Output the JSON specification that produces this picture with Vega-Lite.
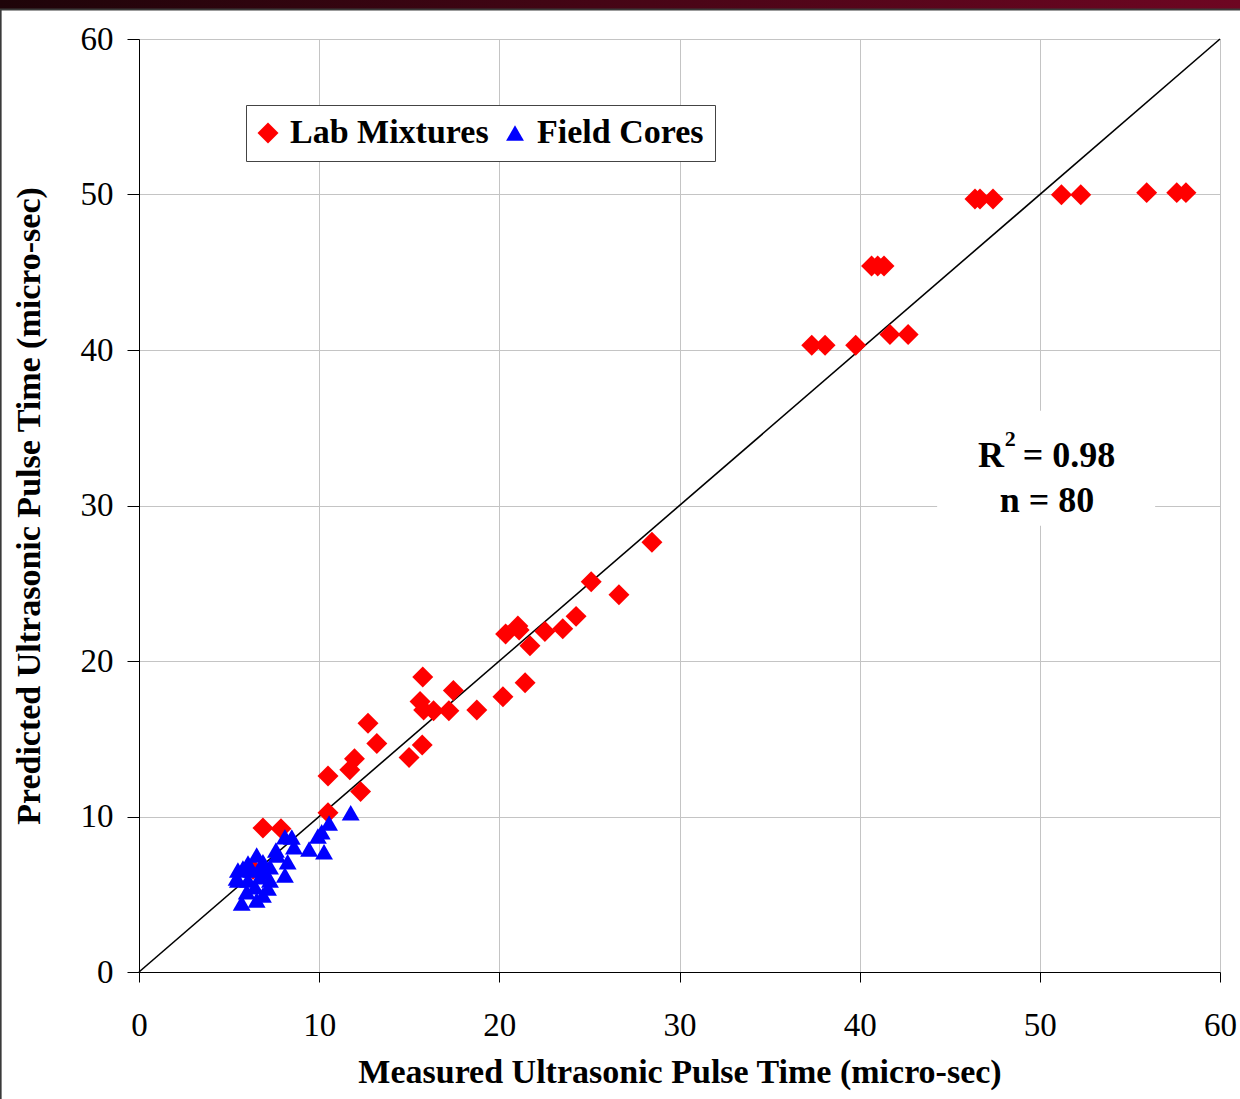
{
  "$schema": "https://vega.github.io/schema/vega-lite/v6.json",
  "width": 1081,
  "height": 933,
  "autosize": {"type": "none"},
  "padding": {"left": 139, "top": 39, "right": 20, "bottom": 127},
  "background": "white",
  "config": {
    "view": {"stroke": null},
    "font": "Liberation Serif",
    "axis": {
      "labelFont": "Liberation Serif",
      "labelFontSize": 33,
      "labelColor": "black",
      "labelFlush": false,
      "titleFont": "Liberation Serif",
      "titleFontSize": 34,
      "titleFontWeight": "bold",
      "titleColor": "black",
      "domainColor": "black",
      "domainWidth": 1,
      "tickColor": "black",
      "gridColor": "#c4c4c4",
      "gridWidth": 1
    }
  },
  "datasets": {
    "pts": [
      {"series": "Lab Mixtures", "measured": 6.88, "predicted": 9.26},
      {"series": "Lab Mixtures", "measured": 7.88, "predicted": 9.22},
      {"series": "Lab Mixtures", "measured": 10.49, "predicted": 10.24},
      {"series": "Lab Mixtures", "measured": 10.49, "predicted": 12.6},
      {"series": "Lab Mixtures", "measured": 12.3, "predicted": 11.6},
      {"series": "Lab Mixtures", "measured": 11.7, "predicted": 13.0},
      {"series": "Lab Mixtures", "measured": 11.96, "predicted": 13.72},
      {"series": "Lab Mixtures", "measured": 12.71, "predicted": 16.0},
      {"series": "Lab Mixtures", "measured": 13.2, "predicted": 14.7},
      {"series": "Lab Mixtures", "measured": 14.99, "predicted": 13.8},
      {"series": "Lab Mixtures", "measured": 15.72, "predicted": 14.6},
      {"series": "Lab Mixtures", "measured": 15.6, "predicted": 17.4},
      {"series": "Lab Mixtures", "measured": 15.75, "predicted": 18.97},
      {"series": "Lab Mixtures", "measured": 15.8, "predicted": 16.85},
      {"series": "Lab Mixtures", "measured": 16.35, "predicted": 16.8},
      {"series": "Lab Mixtures", "measured": 17.2, "predicted": 16.8},
      {"series": "Lab Mixtures", "measured": 17.45, "predicted": 18.1},
      {"series": "Lab Mixtures", "measured": 18.75, "predicted": 16.85},
      {"series": "Lab Mixtures", "measured": 20.2, "predicted": 17.7},
      {"series": "Lab Mixtures", "measured": 21.43, "predicted": 18.6},
      {"series": "Lab Mixtures", "measured": 20.35, "predicted": 21.74},
      {"series": "Lab Mixtures", "measured": 21.03, "predicted": 22.25},
      {"series": "Lab Mixtures", "measured": 21.1, "predicted": 21.99},
      {"series": "Lab Mixtures", "measured": 21.7, "predicted": 20.98},
      {"series": "Lab Mixtures", "measured": 22.53, "predicted": 21.9},
      {"series": "Lab Mixtures", "measured": 23.52, "predicted": 22.07},
      {"series": "Lab Mixtures", "measured": 24.26, "predicted": 22.87},
      {"series": "Lab Mixtures", "measured": 25.1, "predicted": 25.1},
      {"series": "Lab Mixtures", "measured": 26.64, "predicted": 24.26},
      {"series": "Lab Mixtures", "measured": 28.47, "predicted": 27.64},
      {"series": "Lab Mixtures", "measured": 37.34, "predicted": 40.3},
      {"series": "Lab Mixtures", "measured": 38.08, "predicted": 40.3},
      {"series": "Lab Mixtures", "measured": 39.78, "predicted": 40.3},
      {"series": "Lab Mixtures", "measured": 40.66, "predicted": 45.4},
      {"series": "Lab Mixtures", "measured": 41.0, "predicted": 45.4},
      {"series": "Lab Mixtures", "measured": 41.35, "predicted": 45.4},
      {"series": "Lab Mixtures", "measured": 41.68, "predicted": 41.0},
      {"series": "Lab Mixtures", "measured": 42.69, "predicted": 41.0},
      {"series": "Lab Mixtures", "measured": 46.4, "predicted": 49.71},
      {"series": "Lab Mixtures", "measured": 46.68, "predicted": 49.71},
      {"series": "Lab Mixtures", "measured": 47.4, "predicted": 49.71},
      {"series": "Lab Mixtures", "measured": 51.2, "predicted": 49.99},
      {"series": "Lab Mixtures", "measured": 52.27, "predicted": 49.99},
      {"series": "Lab Mixtures", "measured": 55.93, "predicted": 50.12},
      {"series": "Lab Mixtures", "measured": 57.6, "predicted": 50.12},
      {"series": "Lab Mixtures", "measured": 58.11, "predicted": 50.12},
      {"series": "Lab Mixtures", "measured": 6.33, "predicted": 6.6},
      {"series": "Field Cores", "measured": 11.75, "predicted": 10.24},
      {"series": "Field Cores", "measured": 10.55, "predicted": 9.58},
      {"series": "Field Cores", "measured": 10.14, "predicted": 9.02},
      {"series": "Field Cores", "measured": 9.93, "predicted": 8.75},
      {"series": "Field Cores", "measured": 9.44, "predicted": 7.91},
      {"series": "Field Cores", "measured": 10.27, "predicted": 7.74},
      {"series": "Field Cores", "measured": 8.1, "predicted": 8.7},
      {"series": "Field Cores", "measured": 8.48, "predicted": 8.68},
      {"series": "Field Cores", "measured": 8.6, "predicted": 8.06},
      {"series": "Field Cores", "measured": 7.6, "predicted": 7.85},
      {"series": "Field Cores", "measured": 8.25, "predicted": 7.09},
      {"series": "Field Cores", "measured": 8.1, "predicted": 6.24},
      {"series": "Field Cores", "measured": 6.53, "predicted": 7.52},
      {"series": "Field Cores", "measured": 6.88, "predicted": 7.09},
      {"series": "Field Cores", "measured": 7.27, "predicted": 6.77},
      {"series": "Field Cores", "measured": 6.05, "predicted": 7.01},
      {"series": "Field Cores", "measured": 5.49, "predicted": 6.56},
      {"series": "Field Cores", "measured": 5.42, "predicted": 6.05},
      {"series": "Field Cores", "measured": 6.05, "predicted": 5.92},
      {"series": "Field Cores", "measured": 6.72, "predicted": 6.13},
      {"series": "Field Cores", "measured": 7.27, "predicted": 5.92},
      {"series": "Field Cores", "measured": 7.16, "predicted": 5.4},
      {"series": "Field Cores", "measured": 6.88, "predicted": 4.95},
      {"series": "Field Cores", "measured": 6.53, "predicted": 4.63},
      {"series": "Field Cores", "measured": 5.7, "predicted": 4.44},
      {"series": "Field Cores", "measured": 5.98, "predicted": 5.16},
      {"series": "Field Cores", "measured": 6.44, "predicted": 5.49},
      {"series": "Field Cores", "measured": 5.49, "predicted": 5.92},
      {"series": "Field Cores", "measured": 6.99, "predicted": 6.43},
      {"series": "Field Cores", "measured": 6.27, "predicted": 6.56},
      {"series": "Field Cores", "measured": 7.66, "predicted": 7.52},
      {"series": "Field Cores", "measured": 5.77, "predicted": 6.69},
      {"series": "Field Cores", "measured": 6.72, "predicted": 6.69}
    ]
  },
  "layer": [
    {
      "data": {"values": [{"x1": 44.3, "x2": 56.4, "y1": 28.7, "y2": 36.1}]},
      "mark": {"type": "rect", "fill": "white", "stroke": null},
      "encoding": {
        "x": {"field": "x1", "type": "quantitative", "scale": {"domain": [0, 60], "nice": false},
              "axis": {"values": [0, 10, 20, 30, 40, 50, 60], "tickSize": 10, "labelPadding": 27,
                       "title": "Measured Ultrasonic Pulse Time (micro-sec)", "titlePadding": 13}},
        "x2": {"field": "x2"},
        "y": {"field": "y1", "type": "quantitative", "scale": {"domain": [0, 60], "nice": false},
              "axis": {"values": [0, 10, 20, 30, 40, 50, 60], "tickSize": 12, "labelPadding": 14,
                       "title": "Predicted Ultrasonic Pulse Time (micro-sec)", "titlePadding": 34}},
        "y2": {"field": "y2"}
      }
    },
    {
      "data": {"values": [{"x": 0, "y": 0}, {"x": 60, "y": 60}]},
      "mark": {"type": "line", "color": "black", "strokeWidth": 1.6},
      "encoding": {
        "x": {"field": "x", "type": "quantitative"},
        "y": {"field": "y", "type": "quantitative"}
      }
    },
    {
      "data": {"name": "pts"},
      "mark": {"type": "point", "filled": true, "opacity": 1, "strokeWidth": 0},
      "encoding": {
        "x": {"field": "measured", "type": "quantitative"},
        "y": {"field": "predicted", "type": "quantitative"},
        "color": {"field": "series", "type": "nominal",
                  "scale": {"domain": ["Lab Mixtures", "Field Cores"], "range": ["#ff0000", "#0000ff"]},
                  "legend": {"title": null, "orient": "none", "legendX": 107, "legendY": 66,
                             "direction": "horizontal", "padding": 11, "strokeColor": "#444", "fillColor": "white",
                             "labelFont": "Liberation Serif", "labelFontWeight": "bold", "labelFontSize": 34,
                             "labelColor": "black", "symbolSize": 260, "labelOffset": 5, "columnPadding": 15,
                             "symbolOffset": -6, "symbolStrokeWidth": 0, "labelLimit": 400}},
        "shape": {"field": "series", "type": "nominal",
                  "scale": {"domain": ["Lab Mixtures", "Field Cores"], "range": ["diamond", "triangle-up"]}},
        "size": {"field": "series", "type": "nominal",
                 "scale": {"domain": ["Lab Mixtures", "Field Cores"], "range": [440, 320]}, "legend": null}
      }
    },
    {
      "data": {"values": [
        {"x": 46.57, "y": 33.18, "t": "R", "s": 36},
        {"x": 48.05, "y": 34.3, "t": "2", "s": 22},
        {"x": 49.05, "y": 33.18, "t": "= 0.98", "s": 36}
      ]},
      "mark": {"type": "text", "font": "Liberation Serif", "fontWeight": "bold", "color": "black", "baseline": "middle", "align": "left"},
      "encoding": {
        "x": {"field": "x", "type": "quantitative"},
        "y": {"field": "y", "type": "quantitative"},
        "text": {"field": "t"},
        "size": {"field": "s", "type": "quantitative", "scale": null, "legend": null}
      }
    },
    {
      "data": {"values": [{"x": 50.4, "y": 30.3, "t": "n = 80"}]},
      "mark": {"type": "text", "font": "Liberation Serif", "fontWeight": "bold", "fontSize": 36, "color": "black", "baseline": "middle", "align": "center"},
      "encoding": {
        "x": {"field": "x", "type": "quantitative"},
        "y": {"field": "y", "type": "quantitative"},
        "text": {"field": "t"}
      }
    },
    {
      "data": {"values": [{"x1": -7.72, "x2": 61.2, "y1": 61.93, "y2": 62.7}]},
      "mark": {"type": "rect", "clip": false,
               "fill": {"gradient": "linear", "x1": 0, "y1": 0, "x2": 1, "y2": 0,
                        "stops": [{"offset": 0, "color": "#1e0409"}, {"offset": 1, "color": "#6e0622"}]}},
      "encoding": {
        "x": {"field": "x1", "type": "quantitative"},
        "x2": {"field": "x2"},
        "y": {"field": "y1", "type": "quantitative"},
        "y2": {"field": "y2"}
      }
    },
    {
      "data": {"values": [{"x1": -7.72, "x2": 61.2, "y1": 61.9, "y2": 61.9}, {"x1": -7.68, "x2": -7.68, "y1": 61.9, "y2": -8.3}]},
      "mark": {"type": "rule", "clip": false, "color": "#3a3a3a", "strokeWidth": 2},
      "encoding": {
        "x": {"field": "x1", "type": "quantitative"},
        "x2": {"field": "x2"},
        "y": {"field": "y1", "type": "quantitative"},
        "y2": {"field": "y2"}
      }
    }
  ]
}
